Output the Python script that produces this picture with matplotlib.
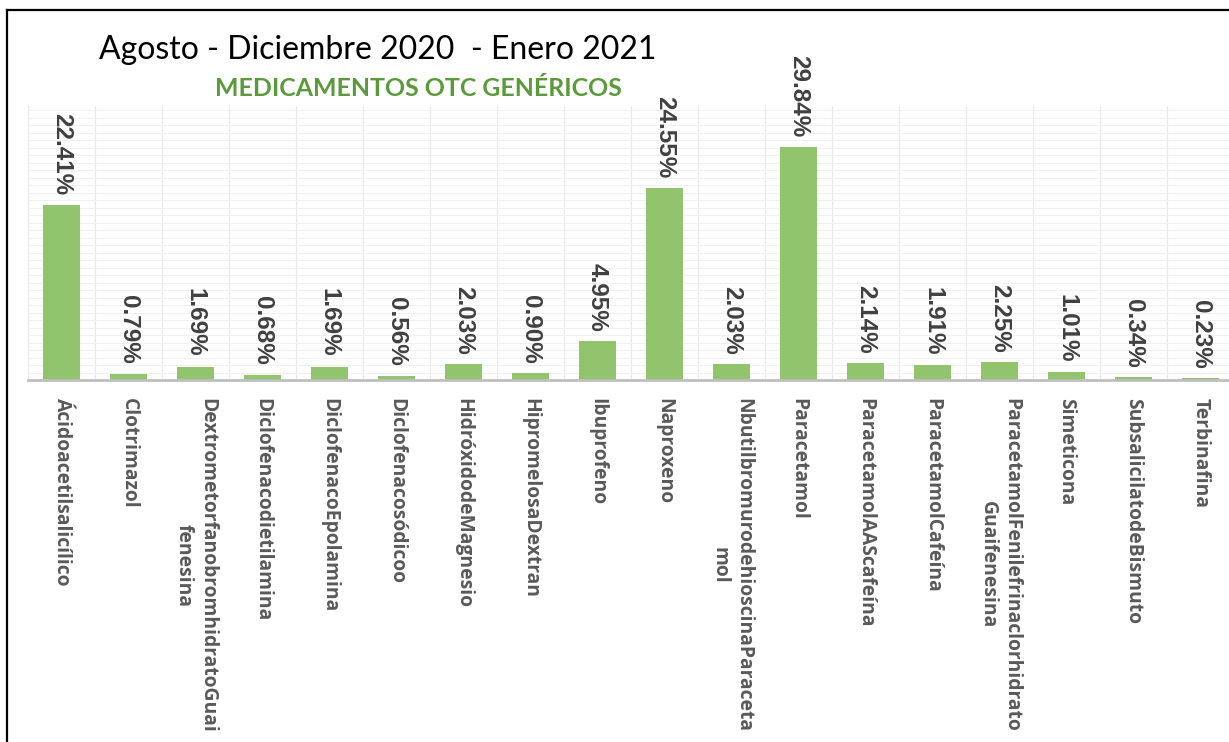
import matplotlib
matplotlib.use("Agg")
import matplotlib.pyplot as plt
from matplotlib.lines import Line2D
from matplotlib.ticker import MultipleLocator
import numpy as np

# data
medicamentos = [
    "Ácidoacetilsalicílico",
    "Clotrimazol",
    "DextrometorfanobromhidratoGuai\nfenesina",
    "Diclofenacodietilamina",
    "DiclofenacoEpolamina",
    "Diclofenacosódicoo",
    "HidróxidodeMagnesio",
    "HipromelosaDextran",
    "Ibuprofeno",
    "Naproxeno",
    "NbutilbromurodehioscinaParaceta\nmol",
    "Paracetamol",
    "ParacetamolAAScafeína",
    "ParacetamolCafeína",
    "ParacetamolFenilefrinaclorhidrato\nGuaifenesina",
    "Simeticona",
    "SubsalicilatodeBismuto",
    "Terbinafina",
]
porcentajes = [22.41, 0.79, 1.69, 0.68, 1.69, 0.56, 2.03, 0.90, 4.95,
               24.55, 2.03, 29.84, 2.14, 1.91, 2.25, 1.01, 0.34, 0.23]

titulo = "Agosto - Diciembre 2020  - Enero 2021"
subtitulo = "MEDICAMENTOS OTC GENÉRICOS"

W, H = 1229, 742
fig = plt.figure(figsize=(W / 100, H / 100), dpi=100)
fig.patch.set_facecolor("white")

# plot area in pixels: left 28, top 106, bottom (baseline) 380, right edge of image
ax = fig.add_axes([28 / W, (H - 380) / H, (W - 28) / W, (380 - 106) / H])

x = np.arange(len(medicamentos))
ax.bar(x, porcentajes, width=0.55, color="#92c46e", zorder=2)

for xi, v in zip(x, porcentajes):
    ax.annotate(f"{v:.2f}%", (xi, v), xytext=(0, 7), textcoords="offset points",
                rotation=270, ha="center", va="bottom", fontsize=17.5,
                fontweight="bold", family="Liberation Sans", color="#404040")

ax.set_xlim(-0.5, -0.5 + (W - 28) / 67.0)
ax.set_ylim(0, 35.1)

ax.set_xticks(x)
ax.set_xticklabels(medicamentos, rotation=270, ha="center", va="top",
                   multialignment="center", fontsize=13.9, fontweight="bold",
                   family="Open Sans", color="#595959")
ax.tick_params(axis="x", length=0, pad=13)
ax.tick_params(axis="y", left=False, labelleft=False)

# faint spreadsheet-like grid
ax.xaxis.set_minor_locator(MultipleLocator(0.5))
ax.yaxis.set_major_locator(MultipleLocator(0.96))
ax.grid(True, which="minor", axis="x", color="#e8e8e8", linewidth=0.8, zorder=0)
ax.grid(True, which="major", axis="y", color="#f0f0f0", linewidth=0.8, zorder=0)
ax.tick_params(axis="x", which="minor", length=0)
ax.set_axisbelow(True)

for s in ["top", "right", "left"]:
    ax.spines[s].set_visible(False)
ax.spines["bottom"].set_color("#bfbfbf")
ax.spines["bottom"].set_linewidth(2)
ax.spines["bottom"].set_zorder(3)

fig.text(378 / W, 1 - 50 / H, titulo, ha="center", va="center",
         fontsize=23, family="Lato", color="black")
fig.text(418 / W, 1 - 89 / H, subtitulo, ha="center", va="center",
         fontsize=17.9, fontweight="bold", family="Lato", color="#5b9a3b")

# black frame lines at top and left
fig.add_artist(Line2D([7 / W, 1], [1 - 10 / H, 1 - 10 / H], color="black", linewidth=1.6))
fig.add_artist(Line2D([7 / W, 7 / W], [0, 1 - 10 / H], color="black", linewidth=1.6))

fig.savefig("out.png", dpi=100, facecolor="white")
